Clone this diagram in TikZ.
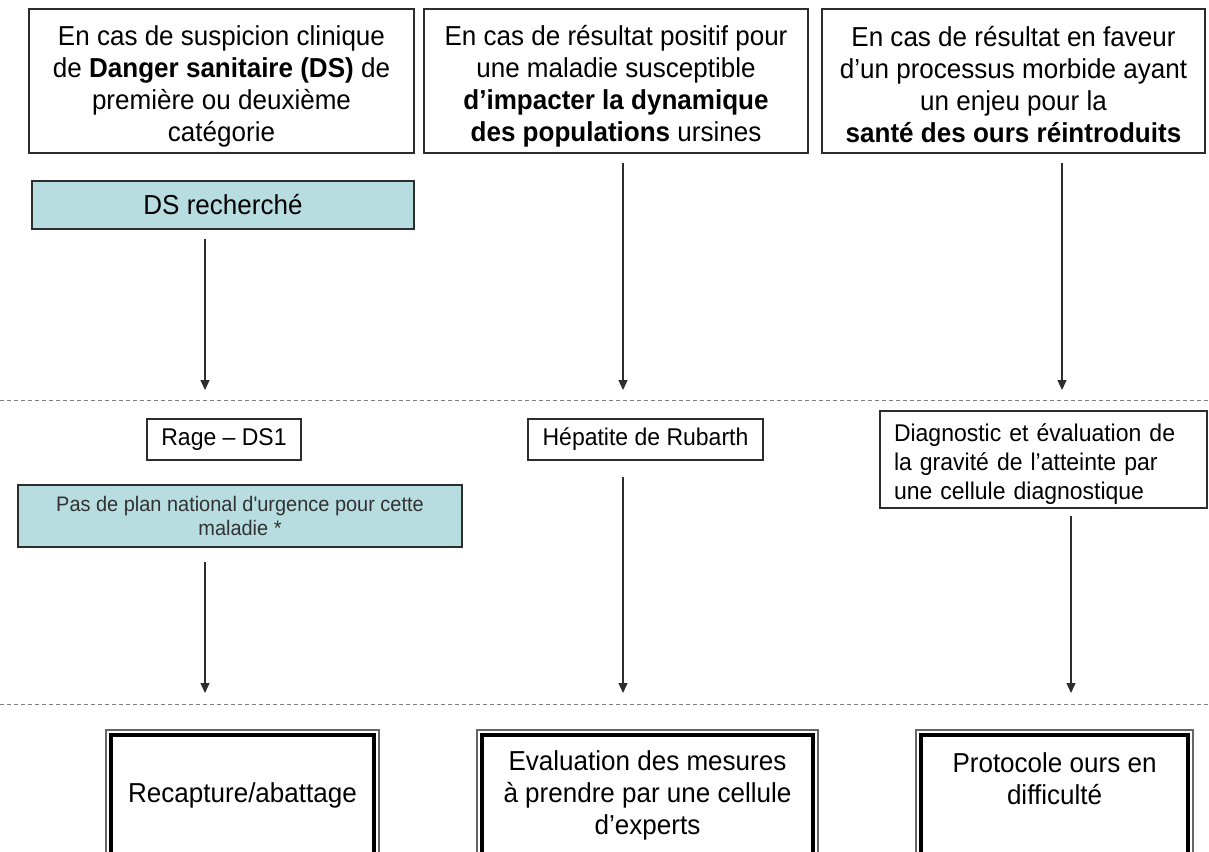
\documentclass[tikz,border=0pt]{standalone}
\usepackage{fontspec}
\setmainfont{Liberation Sans}[Ligatures=TeXOff, FakeStretch=0.95]
\usetikzlibrary{arrows.meta}
\definecolor{cyanbox}{RGB}{183,221,224}
\definecolor{edge}{RGB}{45,45,45}
\definecolor{pastext}{RGB}{50,50,50}
\newcommand{\lowerby}[1]{\rule{0pt}{#1}}
\begin{document}
\begin{tikzpicture}[x=1pt,y=-1pt,
  box/.style={draw=edge, line width=1.4pt, inner sep=0pt, align=center, font=\fontsize{27.4}{32}\selectfont},
  cbox/.style={box, fill=cyanbox},
  arr/.style={draw=edge, line width=1.3pt, -{Triangle[length=10pt,width=9pt]}},
  sepline/.style={draw=gray, line width=1pt, dash pattern=on 4pt off 3pt},
  bigbox/.style={draw=gray!80!black, line width=1.2pt, inner sep=0pt, align=center, font=\fontsize{27.4}{32}\selectfont},
  thickrim/.style={draw=black, line width=4.5pt}]
\useasboundingbox (0,0) rectangle (1209,851);
\clip (0,0) rectangle (1209,851);
\fill[white] (0,0) rectangle (1209,851);

% top row
\node[box, minimum width=385pt, minimum height=144pt] (q1) at (221.5,81)
  {\lowerby{30pt}En cas de suspicion clinique\\de \textbf{Danger sanitaire (DS)} de\\première ou deuxième\\catégorie};
\node[box, minimum width=384pt, minimum height=144pt] (q2) at (616,81)
  {\lowerby{30pt}En cas de résultat positif pour\\une maladie susceptible\\\textbf{d’impacter la dynamique}\\\textbf{des populations} ursines};
\node[box, minimum width=383pt, minimum height=144pt] (q3) at (1013.5,81)
  {\lowerby{28pt}En cas de résultat en faveur\\d’un processus morbide ayant\\un enjeu pour la\\\textbf{santé des ours réintroduits}};

\node[cbox, minimum width=382pt, minimum height=48pt] (ds) at (223,205) {DS recherché};

% middle row
\node[box, font=\fontsize{24.2}{28}\selectfont, minimum width=154pt, minimum height=41pt] (rage) at (224,439.5) {Rage – DS1};
\node[box, font=\fontsize{24.2}{28}\selectfont, minimum width=235pt, minimum height=41pt] (hep) at (645.5,439.5) {Hépatite de Rubarth};
\node[box, font=\fontsize{24.2}{29}\selectfont, align=left, text width=299pt, inner xsep=14pt, minimum height=97pt] (diag) at (1043.5,459.5)
  {\lowerby{27pt}Diagnostic et évaluation de\\la gravité de l’atteinte par\\une cellule diagnostique};
\node[cbox, font=\fontsize{21}{24}\selectfont, text=pastext, minimum width=444pt, minimum height=62pt] (pas) at (240,516)
  {Pas de plan national d'urgence pour cette\\maladie *};

% bottom row
\node[bigbox, minimum width=273pt, minimum height=130pt] (ra) at (242.5,795) {Recapture/abattage};
\node[bigbox, minimum width=341pt, minimum height=130pt] (ev) at (647.5,795) {Evaluation des mesures\\à prendre par une cellule\\d’experts};
\node[bigbox, minimum width=277pt, minimum height=130pt] (pr) at (1054.5,795) {Protocole ours en\\difficulté\\\mbox{}};
\foreach \n in {ra,ev,pr}
  \draw[thickrim] ([shift={(5.5,5.5)}]\n.north west) rectangle ([shift={(-5.5,-5.5)}]\n.south east);

% separators
\draw[sepline] (0,400) -- (1209,400);
\draw[sepline] (0,704) -- (1209,704);

% arrow ends
\coordinate (t1) at (205,390);
\coordinate (t2) at (623,390);
\coordinate (t3) at (1062,390);
\coordinate (u1) at (205,693);
\coordinate (u2) at (623,693);
\coordinate (u3) at (1071,693);

\draw[arr, shorten <=9pt] (ds.south -| t1) -- (t1);
\draw[arr, shorten <=9pt] (q2.south -| t2) -- (t2);
\draw[arr, shorten <=9pt] (q3.south -| t3) -- (t3);
\draw[arr, shorten <=14pt] (pas.south -| u1) -- (u1);
\draw[arr, shorten <=16pt] (hep.south -| u2) -- (u2);
\draw[arr, shorten <=7pt] (diag.south -| u3) -- (u3);
\end{tikzpicture}
\end{document}
